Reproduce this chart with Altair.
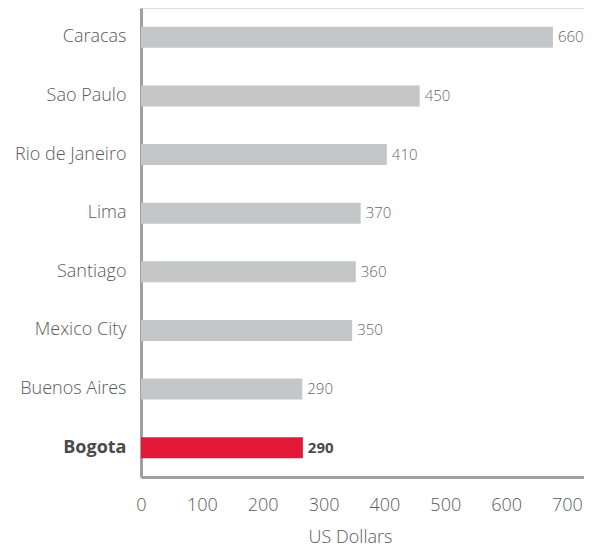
import altair as alt
import pandas as pd

cities = ["Caracas", "Sao Paulo", "Rio de Janeiro", "Lima", "Santiago",
          "Mexico City", "Buenos Aires", "Bogota"]
bar_lengths = [677, 458, 404, 361, 353, 347, 265, 266]
value_labels = ["660", "450", "410", "370", "360", "350", "290", "290"]
x_ticks = [0, 100, 200, 300, 400, 500, 600, 700]

df = pd.DataFrame({"city": cities, "usd": bar_lengths, "label": value_labels})
df["hl"] = df["city"] == "Bogota"

FONT = "Open Sans"

y_enc = alt.Y("city:N", sort=cities, title=None,
              scale=alt.Scale(paddingInner=0.64, paddingOuter=0.32),
              axis=alt.Axis(domainColor="#a0a0a0", domainWidth=3, ticks=False,
                            labelFontSize=18, labelFont=FONT, labelPadding=15,
                            labelColor=alt.expr("datum.value == 'Bogota' ? '#4a4a4a' : '#5a5a5a'"),
                            labelFontWeight=alt.expr("datum.value == 'Bogota' ? 'bold' : 300")))
x_enc = alt.X("usd:Q", title="US Dollars",
              scale=alt.Scale(domain=[0, 728], nice=False, zero=True),
              axis=alt.Axis(values=x_ticks, grid=False, ticks=False, domainColor="#a0a0a0",
                            domainWidth=3, labelFontSize=18, labelFont=FONT, labelColor="#5a5a5a",
                            labelFontWeight=300, labelPadding=19, titleFontSize=18,
                            titleFont=FONT, titleFontWeight=300, titleColor="#5a5a5a",
                            titlePadding=14, titleX=209, titleAnchor="middle",
                            labelFlush=False))

bars = alt.Chart(df).mark_bar().encode(
    y=y_enc, x=x_enc,
    color=alt.condition(alt.datum.hl, alt.value("#e3193a"), alt.value("#c5c6c8")),
)

texts_normal = alt.Chart(df).transform_filter(~alt.datum.hl).mark_text(
    align="left", baseline="middle", dx=5, font=FONT, fontSize=15,
    fontWeight=300, color="#666666").encode(
    y=alt.Y("city:N", sort=cities),
    x=alt.X("usd:Q"),
    text="label:N",
)
texts_bold = alt.Chart(df).transform_filter(alt.datum.hl).mark_text(
    align="left", baseline="middle", dx=5, font=FONT, fontSize=15,
    fontWeight="bold", color="#4a4a4a").encode(
    y=alt.Y("city:N", sort=cities),
    x=alt.X("usd:Q"),
    text="label:N",
)

chart = alt.layer(bars, texts_normal, texts_bold).properties(
    width=443, height=469,
    autosize=alt.AutoSizeParams(type="none"),
    padding={"left": 133, "top": 0, "right": 0, "bottom": 74},
).configure_view(strokeOpacity=0, strokeWidth=0).configure(background="white")

chart.save("out.html", embed_options={"renderer": "svg", "actions": False})
